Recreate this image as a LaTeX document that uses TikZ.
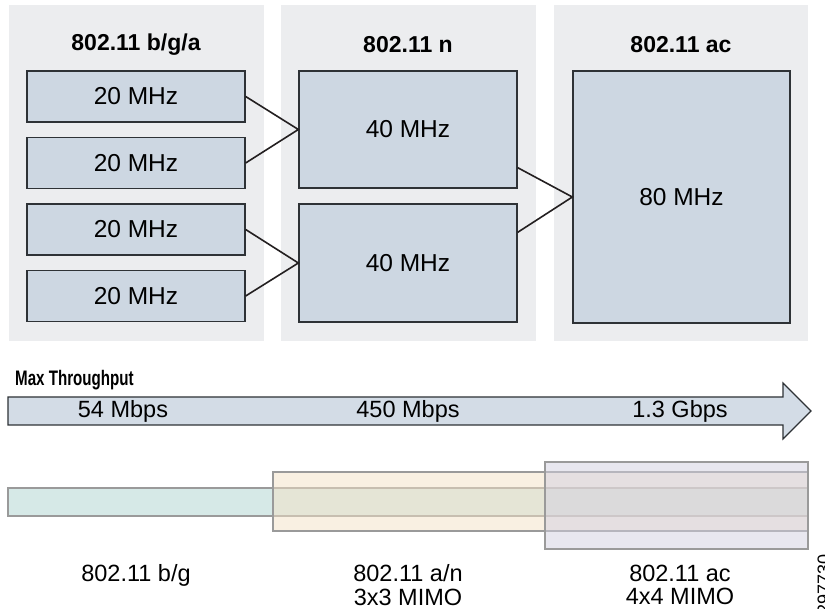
\documentclass[tikz,border=0pt]{standalone}
\usepackage{fontspec}
\setmainfont{Liberation Sans}
\begin{document}
\begin{tikzpicture}[x=1pt,y=-1pt,
  panel/.style={fill=panelgray,draw=none},
  mbox/.style={draw=boxline,line width=1.3pt,fill=boxblue,inner sep=0pt,font=\fontsize{24.5}{28}\selectfont},
  ttl/.style={font=\fontsize{23}{26}\selectfont\bfseries},
  conn/.style={draw=linedark,line width=1.6pt},
  lbl/.style={font=\fontsize{23.5}{23.5}\selectfont,align=center},
  bar/.style={draw=bargray,line width=1.1pt}
]
\definecolor{panelgray}{HTML}{ECEDEF}
\definecolor{boxblue}{HTML}{CDD7E2}
\definecolor{boxline}{HTML}{2E3236}
\definecolor{linedark}{HTML}{231F20}
\definecolor{arrowfill}{HTML}{D3DCE6}
\definecolor{bargray}{HTML}{9A9A9A}
\definecolor{bargreen}{HTML}{D6E9E7}
\definecolor{barorange}{HTML}{F5E3C6}
\definecolor{barpurple}{HTML}{D3D0E1}
\useasboundingbox (0,0) rectangle (825,609);
\fill[white] (0,0) rectangle (825,609);
% panels
\fill[panel] (9,5) rectangle (264,341);
\fill[panel] (281,5) rectangle (536,341);
\fill[panel] (554,5) rectangle (808,341);
\node[ttl] (t1) at (136,45) {802.11 b/g/a};
\node[ttl] (t2) at (408,45) {802.11 n};
\node[ttl] (t3) at (681,45) {802.11 ac};
% boxes
\node[mbox,minimum width=218pt,minimum height=51pt] (b1) at (136,96.5) {20 MHz};
\node[mbox,minimum width=218pt,minimum height=51pt] (b2) at (136,163) {20 MHz};
\node[mbox,minimum width=218pt,minimum height=51pt] (b3) at (136,229.5) {20 MHz};
\node[mbox,minimum width=218pt,minimum height=51pt] (b4) at (136,296) {20 MHz};
\node[mbox,minimum width=218pt,minimum height=117pt] (n1) at (408,129.5) {40 MHz};
\node[mbox,minimum width=218pt,minimum height=118pt] (n2) at (408,263) {40 MHz};
\node[mbox,minimum width=217pt,minimum height=252pt] (ac) at (681.5,197) {80 MHz};
% connectors
\draw[conn] (b1.east) -- (n1.west) -- (b2.east);
\draw[conn] (b3.east) -- (n2.west) -- (b4.east);
\draw[conn] ([yshift=21pt]n1.south east) -- (ac.west) -- ([yshift=-29pt]n2.north east);
% throughput arrow
\node[font=\fontsize{21}{22}\selectfont\bfseries,anchor=west,inner sep=0pt] (mt) at (15,380) {\scalebox{0.72}[1]{Max Throughput}};
\draw[draw=boxline,line width=1.2pt,fill=arrowfill]
  (8,397) -- (783,397) -- (783,383) -- (811,411) -- (783,439) -- (783,425) -- (8,425) -- cycle;
\node[lbl] (r1) at (123,411) {54 Mbps};
\node[lbl] (r2) at (408,411) {450 Mbps};
\node[lbl] (r3) at (680,411) {1.3 Gbps};
% bars
\draw[bar,fill=bargreen] (8,488) rectangle (808,516);
\draw[bar,fill=barorange,fill opacity=0.5] (273,472) rectangle (808,531);
\draw[bar,fill=barpurple,fill opacity=0.5] (545,462) rectangle (808,549);
\node[lbl] (s1) at (136,575) {802.11 b/g};
\node[lbl] (s2) at (408,585) {802.11 a/n\\3x3 MIMO};
\node[lbl] (s3) at (680,585) {802.11 ac\\4x4 MIMO};
\node[font=\fontsize{18}{20}\selectfont,rotate=90,anchor=base east,inner sep=0pt] (id) at (830,554) {297730};
\end{tikzpicture}
\end{document}
